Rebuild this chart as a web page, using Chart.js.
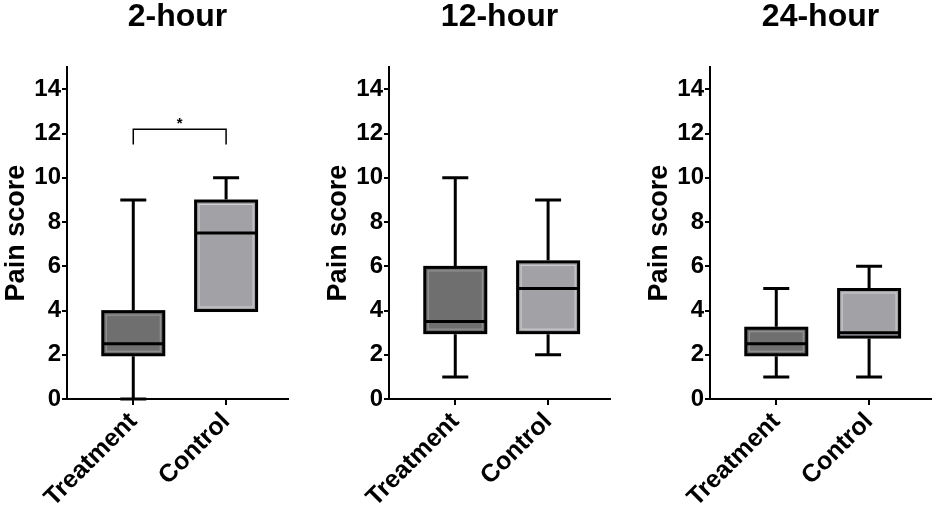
<!DOCTYPE html>
<html>
<head>
<meta charset="utf-8">
<script src="https://cdn.jsdelivr.net/npm/chart.js@4"></script>
<style>
  body { margin: 0; background: #fff; }
  .panel { position: absolute; top: 0; width: 292px; height: 509px; }
</style>
</head>
<body>
<div class="panel" style="left:0px"><canvas id="c0"></canvas></div>
<div class="panel" style="left:322px"><canvas id="c1"></canvas></div>
<div class="panel" style="left:643px"><canvas id="c2"></canvas></div>
<script>
// groups and time points
const groups = ['Treatment', 'Control'];
const panelTitles = ['2-hour', '12-hour', '24-hour'];

// box plot values per panel: [Treatment, Control]
const mins    = [[0, 4],      [1, 2],     [1, 1]];
const q1s     = [[2, 4],      [3, 3],     [2, 2.8]];
const medians = [[2.5, 7.5],  [3.5, 5],   [2.5, 3]];
const q3s     = [[3.95, 8.95],[5.95, 6.2],[3.2, 4.95]];
const maxs    = [[9, 10],     [10, 9],    [5, 6]];

// y ticks
const yTicks = [0, 2, 4, 6, 8, 10, 12, 14];

const fills = ['#6f6f6f', '#a2a1a6'];
const innerLines = ['#9a9a9a', '#d2d2d6'];
const font = 'Liberation Sans, Arial, sans-serif';

const boxPlugin = {
  id: 'boxParts',
  afterDatasetsDraw(chart, args, opts) {
    const ctx = chart.ctx;
    const xs = chart.scales.x, ys = chart.scales.y;
    const p = opts.panel;
    const meta = chart.getDatasetMeta(0);
    ctx.save();
    ctx.lineCap = 'butt';
    groups.forEach((g, i) => {
      const cx = xs.getPixelForValue(i);
      const bar = meta.data[i];
      const half = bar.width / 2;
      // light inner outline
      const top = ys.getPixelForValue(q3s[p][i]);
      const bot = ys.getPixelForValue(q1s[p][i]);
      ctx.strokeStyle = innerLines[i];
      ctx.lineWidth = 1;
      ctx.strokeRect(cx - half + 3.5, top + 3.5, 2 * half - 7, bot - top - 7);
      // box border
      ctx.strokeStyle = '#000';
      ctx.lineWidth = 3;
      ctx.strokeRect(cx - half, top, 2 * half, bot - top);
      // whiskers
      const capW = 13;
      const yMax = ys.getPixelForValue(maxs[p][i]);
      const yMin = ys.getPixelForValue(mins[p][i]);
      ctx.beginPath();
      if (maxs[p][i] > q3s[p][i]) {
        ctx.moveTo(cx, top - 1.5); ctx.lineTo(cx, yMax);
        ctx.moveTo(cx - capW, yMax); ctx.lineTo(cx + capW, yMax);
      }
      if (mins[p][i] < q1s[p][i]) {
        ctx.moveTo(cx, bot + 1.5); ctx.lineTo(cx, yMin);
        ctx.moveTo(cx - capW, yMin); ctx.lineTo(cx + capW, yMin);
      }
      // median
      const ym = ys.getPixelForValue(medians[p][i]);
      ctx.moveTo(cx - half, ym); ctx.lineTo(cx + half, ym);
      ctx.stroke();
    });
    // significance bracket
    if (opts.bracket) {
      const [lo, hi] = opts.bracket;
      const x0 = xs.getPixelForValue(0), x1 = xs.getPixelForValue(1);
      const y0 = ys.getPixelForValue(lo), y1 = ys.getPixelForValue(hi);
      ctx.lineWidth = 1.5;
      ctx.beginPath();
      ctx.moveTo(x0, y0); ctx.lineTo(x0, y1); ctx.lineTo(x1, y1); ctx.lineTo(x1, y0);
      ctx.stroke();
      ctx.fillStyle = '#000';
      ctx.font = 'bold 15px ' + font;
      ctx.textAlign = 'center';
      ctx.textBaseline = 'bottom';
      ctx.fillText('*', (x0 + x1) / 2, y1 + 2);
    }
    ctx.restore();
  }
};

panelTitles.forEach((title, p) => {
  new Chart(document.getElementById('c' + p), {
    type: 'bar',
    data: {
      datasets: [{
        data: groups.map((g, i) => ({ x: i, y: [q1s[p][i], q3s[p][i]] })),
        backgroundColor: fills,
        borderWidth: 0,
        barThickness: 61
      }]
    },
    options: {
      responsive: true,
      maintainAspectRatio: false,
      animation: false,
      events: [],
      layout: { padding: { left: 0, right: 4, top: 0, bottom: 0 } },
      plugins: {
        legend: { display: false },
        tooltip: { enabled: false },
        title: {
          display: true,
          text: title,
          fullSize: false,
          color: '#000',
          font: { family: font, size: 32, weight: 'bold', lineHeight: 1.1 },
          padding: { top: 0, bottom: 32 }
        },
        boxParts: { panel: p, bracket: p === 0 ? [11.5, 12.2] : null }
      },
      scales: {
        x: {
          type: 'linear',
          min: -0.714,
          max: 1.667,
          offset: false,
          afterBuildTicks(s) { s.ticks = [{ value: 0 }, { value: 1 }]; },
          afterFit(s) { s.height = 110; },
          border: { color: '#000', width: 2 },
          grid: { offset: false, drawOnChartArea: false, drawTicks: true, tickLength: 6, color: '#000', lineWidth: 2 },
          ticks: {
            autoSkip: false,
            minRotation: 45,
            maxRotation: 45,
            padding: 2,
            color: '#000',
            font: { family: font, size: 25, weight: 'bold' },
            callback: v => groups[v]
          }
        },
        y: {
          min: 0,
          max: 15,
          afterBuildTicks(s) { s.ticks = yTicks.map(v => ({ value: v })); },
          afterFit(s) { s.width = 67; },
          border: { color: '#000', width: 2 },
          grid: { drawOnChartArea: false, drawTicks: true, tickLength: 5, color: '#000', lineWidth: 2 },
          ticks: {
            padding: 1,
            color: '#000',
            font: { family: font, size: 24, weight: 'bold' }
          },
          title: {
            display: true,
            text: 'Pain score',
            color: '#000',
            padding: 0,
            font: { family: font, size: 27, weight: 'bold' }
          }
        }
      }
    },
    plugins: [boxPlugin]
  });
});
</script>
</body>
</html>
